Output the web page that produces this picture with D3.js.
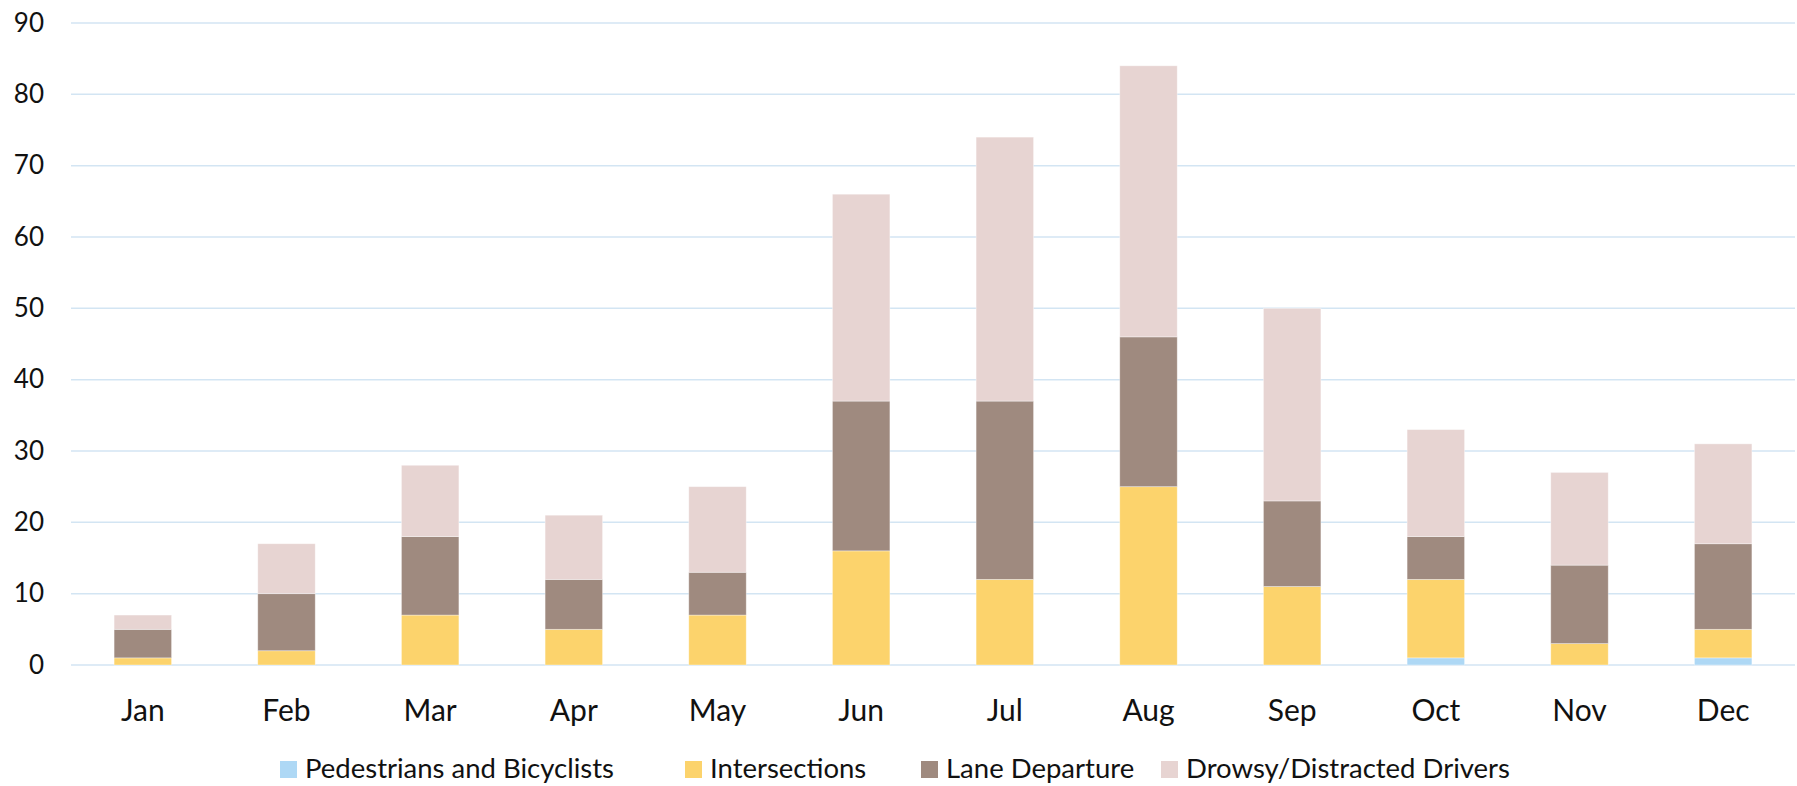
<!DOCTYPE html>
<html>
<head>
<meta charset="utf-8">
<script src="https://cdn.jsdelivr.net/npm/d3@7"></script>
<style>
html,body{margin:0;padding:0;background:#fff;}
svg{display:block;font-family:Lato,"Open Sans",sans-serif;}
</style>
</head>
<body>
<svg id="chart" width="1797" height="786"></svg>
<script>
const months = ["Jan","Feb","Mar","Apr","May","Jun","Jul","Aug","Sep","Oct","Nov","Dec"];
const seriesNames = ["Pedestrians and Bicyclists","Intersections","Lane Departure","Drowsy/Distracted Drivers"];
const pedestrians = [0,0,0,0,0,0,0,0,0,1,0,1];
const intersections = [1,2,7,5,7,16,12,25,11,11,3,4];
const laneDeparture = [4,8,11,7,6,21,25,21,12,6,11,12];
const drowsy = [2,7,10,9,12,29,37,38,27,15,13,14];
const yTicks = [0,10,20,30,40,50,60,70,80,90];
const colors = ["#AED8F5","#FCD36C","#9F8A7F","#E7D4D2"];

(function(){
const svg = d3.select("#chart");
const plotLeft = 71, plotRight = 1795, plotTop = 23, plotBottom = 665;

const x = d3.scaleBand().domain(months).range([plotLeft, plotRight]).paddingInner(0.6).paddingOuter(0.3);
const y = d3.scaleLinear().domain([0, 90]).range([plotBottom, plotTop]);

// gridlines
svg.append("g").selectAll("line").data(yTicks).join("line")
  .attr("x1", plotLeft).attr("x2", plotRight)
  .attr("y1", d => y(d)).attr("y2", d => y(d))
  .attr("stroke", "#D3E5F3").attr("stroke-width", 1.5);

// y labels
const yAxis = d3.axisLeft(y).tickValues(yTicks).tickSize(0).tickPadding(0);
const yg = svg.append("g").attr("transform", "translate(44,0)").call(yAxis);
yg.select(".domain").remove();
yg.selectAll("text").attr("font-size", 26).attr("fill", "#111").attr("font-family", "Lato,'Open Sans',sans-serif");

// stack data
const table = months.map((m, i) => ({
  month: m,
  "Pedestrians and Bicyclists": pedestrians[i],
  "Intersections": intersections[i],
  "Lane Departure": laneDeparture[i],
  "Drowsy/Distracted Drivers": drowsy[i]
}));
const stacked = d3.stack().keys(seriesNames)(table);

svg.append("g").selectAll("g").data(stacked).join("g")
  .attr("fill", (d, i) => colors[i])
  .selectAll("rect").data(d => d.filter(s => s[1] - s[0] > 0)).join("rect")
  .attr("x", d => x(d.data.month))
  .attr("width", x.bandwidth())
  .attr("y", d => y(d[1]))
  .attr("height", d => y(d[0]) - y(d[1]))
  .attr("stroke", "#ffffff").attr("stroke-opacity", 0.45).attr("stroke-width", 0.8);

// x axis labels
const xAxis = d3.axisBottom(x).tickSize(0).tickPadding(0);
const xg = svg.append("g").attr("transform", `translate(0,${plotBottom})`).call(xAxis);
xg.select(".domain").remove();
xg.selectAll("text").attr("font-size", 30).attr("fill", "#111").attr("dy", null)
  .attr("y", 56).attr("font-family", "Lato,'Open Sans',sans-serif");

// legend
const legendX = [280, 685, 921, 1161];
const lg = svg.append("g");
const items = lg.selectAll("g").data(seriesNames).join("g")
  .attr("transform", (d, i) => `translate(${legendX[i]},0)`);
items.append("rect").attr("x", 0).attr("y", 761).attr("width", 17).attr("height", 17)
  .attr("fill", (d, i) => colors[i]);
items.append("text").attr("x", 25).attr("y", 778).text(d => d)
  .attr("font-size", 27.5).attr("fill", "#111");
})();
</script>
</body>
</html>
